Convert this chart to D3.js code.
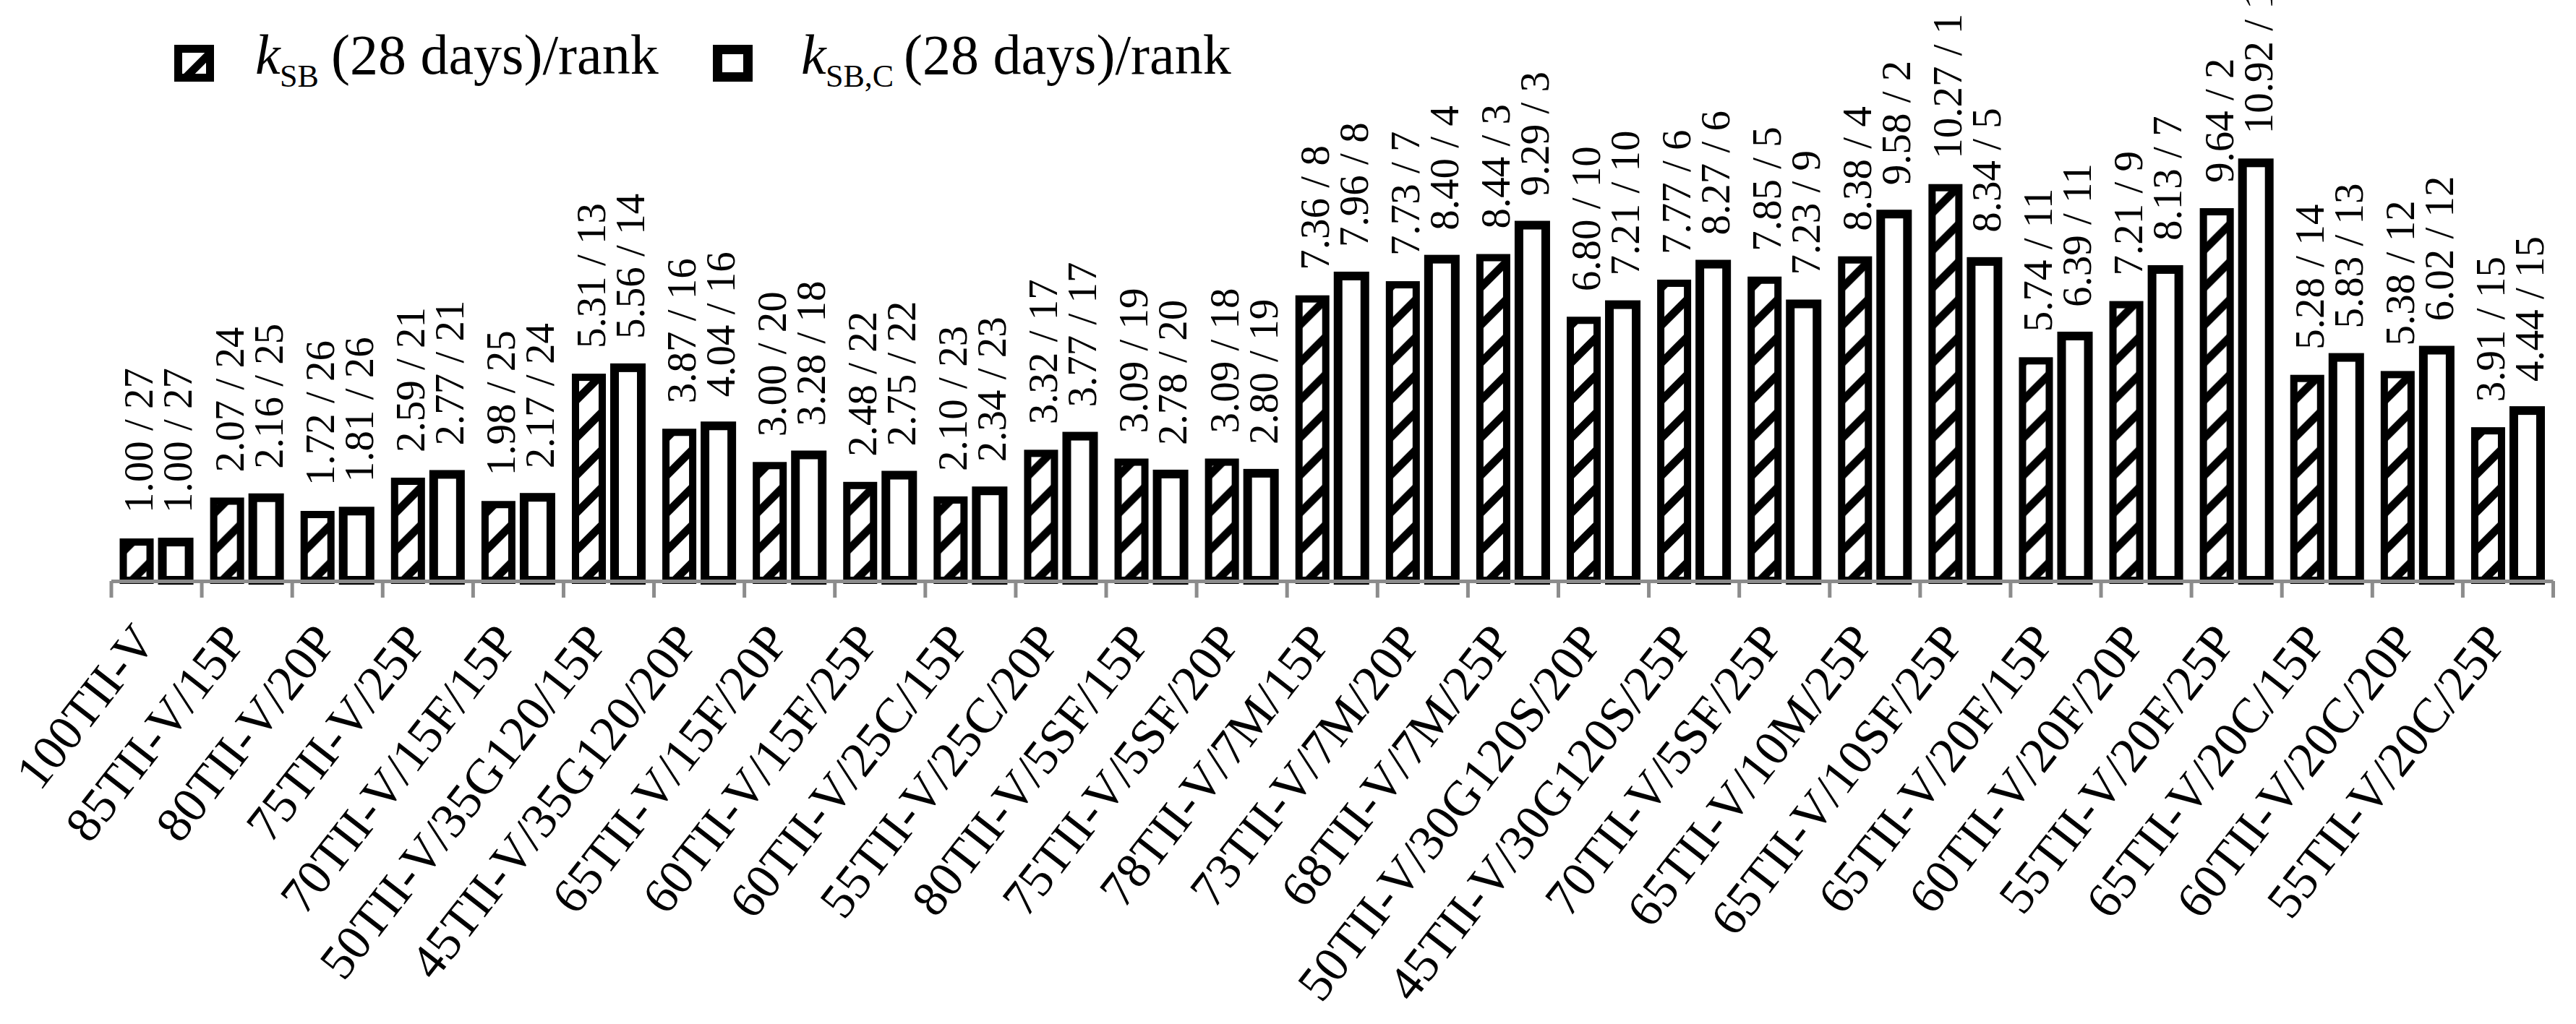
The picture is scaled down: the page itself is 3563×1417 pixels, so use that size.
<!DOCTYPE html>
<html>
<head>
<meta charset="utf-8">
<script src="https://cdn.jsdelivr.net/npm/d3@7"></script>
<style>
  body { margin: 0; background: #fff; }
  svg { display: block; font-family: "Liberation Serif", "Times New Roman", serif; }
</style>
</head>
<body>
<div id="chart"></div>
<script>
// mix names (x axis)
let categories = [
    "100TII-V", "85TII-V/15P", "80TII-V/20P", "75TII-V/25P", "70TII-V/15F/15P",
    "50TII-V/35G120/15P", "45TII-V/35G120/20P", "65TII-V/15F/20P", "60TII-V/15F/25P",
    "60TII-V/25C/15P", "55TII-V/25C/20P", "80TII-V/5SF/15P", "75TII-V/5SF/20P",
    "78TII-V/7M/15P", "73TII-V/7M/20P", "68TII-V/7M/25P", "50TII-V/30G120S/20P",
    "45TII-V/30G120S/25P", "70TII-V/5SF/25P", "65TII-V/10M/25P", "65TII-V/10SF/25P",
    "65TII-V/20F/15P", "60TII-V/20F/20P", "55TII-V/20F/25P", "65TII-V/20C/15P",
    "60TII-V/20C/20P", "55TII-V/20C/25P"
];

// k_SB (28 days) and its rank
let kSB = [1.00, 2.07, 1.72, 2.59, 1.98, 5.31, 3.87, 3.00, 2.48, 2.10, 3.32, 3.09, 3.09,
           7.36, 7.73, 8.44, 6.80, 7.77, 7.85, 8.38, 10.27, 5.74, 7.21, 9.64, 5.28, 5.38, 3.91];
let rankSB = [27, 24, 26, 21, 25, 13, 16, 20, 22, 23, 17, 19, 18,
              8, 7, 3, 10, 6, 5, 4, 1, 11, 9, 2, 14, 12, 15];

// k_SB,C (28 days) and its rank
let kSBC = [1.00, 2.16, 1.81, 2.77, 2.17, 5.56, 4.04, 3.28, 2.75, 2.34, 3.77, 2.78, 2.80,
            7.96, 8.40, 9.29, 7.21, 8.27, 7.23, 9.58, 8.34, 6.39, 8.13, 10.92, 5.83, 6.02, 4.44];
let rankSBC = [27, 25, 26, 21, 24, 14, 16, 18, 22, 23, 17, 20, 19,
               8, 4, 3, 10, 6, 9, 2, 5, 11, 7, 1, 13, 12, 15];

let seriesKeys = ["sb", "sbc"];
let seriesSubs = ["SB", "SB,C"];
let legendRest = "(28 days)/rank";

let svgWidth = 3563;
let svgHeight = 1417;
let baseY = 803;

let svg = d3.select("#chart")
            .append("svg")
            .attr("width", svgWidth)
            .attr("height", svgHeight);

svg.append("rect").attr("width", svgWidth).attr("height", svgHeight).attr("fill", "#fff");

// hatch pattern for k_SB bars
let hs = 52;
let pat = svg.append("defs").append("pattern")
    .attr("id", "hatch")
    .attr("patternUnits", "userSpaceOnUse")
    .attr("width", hs)
    .attr("height", hs);
pat.append("rect").attr("width", hs).attr("height", hs).attr("fill", "#fff");
pat.append("path")
    .attr("d", `M-14,14 L14,-14 M0,${hs} L${hs},0 M${hs - 14},${hs + 14} L${hs + 14},${hs - 14}`)
    .attr("stroke", "#000")
    .attr("stroke-width", 11);

// scales
let x0 = d3.scaleBand()
    .domain(categories)
    .range([153.5, 3531])
    .padding(0);

let x1 = d3.scaleBand()
    .domain(seriesKeys)
    .range([0, x0.bandwidth()])
    .padding(0.315);

let y = d3.scaleLinear()
    .domain([0, 12])
    .range([baseY, baseY - 12 * 52.9]);

let rows = categories.map((c, i) => ({
    cat: c,
    vals: [
        {key: "sb", v: kSB[i], r: rankSB[i]},
        {key: "sbc", v: kSBC[i], r: rankSBC[i]}
    ]
}));

let groups = svg.append("g")
    .selectAll("g")
    .data(rows)
    .join("g")
    .attr("transform", d => `translate(${x0(d.cat)},0)`);

// bars
groups.selectAll("rect")
    .data(d => d.vals)
    .join("rect")
    .attr("x", d => x1(d.key))
    .attr("y", d => y(d.v))
    .attr("width", x1.bandwidth())
    .attr("height", d => y(0) - y(d.v))
    .attr("fill", d => d.key === "sb" ? "url(#hatch)" : "#fff")
    .attr("stroke", "#000")
    .attr("stroke-width", d => d.key === "sb" ? 10 : 12);

// value / rank labels
groups.selectAll("text")
    .data(d => d.vals)
    .join("text")
    .attr("transform", d => `translate(${x1(d.key) + x1.bandwidth() / 2 + 3},${y(d.v) - 40}) rotate(-90)`)
    .attr("dy", "0.34em")
    .attr("font-size", 57)
    .attr("fill", "#000")
    .text(d => `${d.v.toFixed(2)} / ${d.r}`);

// axis line with ticks between categories
let tickScale = d3.scaleLinear()
    .domain([0, categories.length])
    .range(x0.range());

svg.append("g")
    .attr("transform", `translate(0,${baseY + 1})`)
    .call(d3.axisBottom(tickScale)
        .tickValues(d3.range(categories.length + 1))
        .tickSizeInner(23)
        .tickSizeOuter(0)
        .tickFormat(""))
    .call(g => g.select(".domain").attr("stroke", "#8c8c8c").attr("stroke-width", 5))
    .call(g => g.selectAll(".tick line").attr("stroke", "#8c8c8c").attr("stroke-width", 5));

// category labels
svg.append("g")
    .attr("transform", `translate(0,${baseY})`)
    .call(d3.axisBottom(x0).tickSize(0).tickPadding(0))
    .call(g => g.select(".domain").remove())
    .attr("font-family", null)
    .attr("font-size", 69)
    .call(g => g.selectAll("text")
        .attr("x", 0)
        .attr("y", 0)
        .attr("dy", 0)
        .attr("fill", "#000")
        .attr("text-anchor", "end")
        .attr("transform", "translate(2,85) rotate(-52)"));

// legend
let legendX = [241, 986];
let textX = [353, 1108];
let restX = [458, 1250];

seriesKeys.forEach((k, i) => {
    let sw = k === "sb" ? 11 : 13;
    svg.append("rect")
        .attr("x", legendX[i] + sw / 2)
        .attr("y", 62 + sw / 2)
        .attr("width", 55 - sw)
        .attr("height", 51 - sw)
        .attr("fill", k === "sb" ? "url(#hatch)" : "#fff")
        .attr("stroke", "#000")
        .attr("stroke-width", sw);

    let t = svg.append("text")
        .attr("y", 102)
        .attr("font-size", 78)
        .attr("fill", "#000");
    t.append("tspan")
        .attr("x", textX[i])
        .attr("font-style", "italic")
        .text("k");
    t.append("tspan")
        .attr("x", textX[i] + 34)
        .attr("y", 120)
        .attr("font-size", 44)
        .text(seriesSubs[i]);
    t.append("tspan")
        .attr("x", restX[i])
        .attr("y", 102)
        .text(legendRest);
});
</script>
</body>
</html>
